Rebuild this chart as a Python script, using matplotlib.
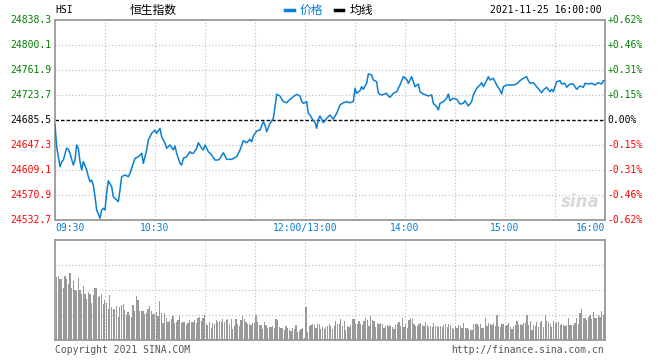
import numpy as np
import matplotlib
matplotlib.use("Agg")
from matplotlib import pyplot as plt

# HSI intraday 2021-11-25, minutes since 09:30 (lunch break removed)
prev_close = 24685.5
y_min, y_max = 24532.7, 24838.3

minutes = [0, 1, 3, 4, 5, 7, 8, 9, 11, 12, 13, 14, 15, 16, 17, 19, 20, 21, 22, 23,
           24, 25, 27, 28, 29, 30, 31, 32, 34, 35, 37, 38, 39, 40, 42, 44, 45, 47, 48, 50,
           52, 53, 55, 56, 58, 60, 61, 63, 64, 66, 67, 69, 71, 72, 73, 75, 76, 77, 79, 81,
           82, 83, 85, 86, 88, 89, 90, 92, 94, 96, 98, 99,
           101, 103, 106, 109, 111, 113, 115, 117, 118, 119, 121, 123, 125, 126, 127, 129, 131, 132, 133, 135,
           137, 139, 141, 143, 145, 147, 148, 149, 151, 152, 153, 155, 156, 157, 158, 159, 161, 163, 164, 165,
           167, 168, 169, 171, 173, 175, 177, 179, 180, 181, 183, 184, 185, 187, 188, 190, 191, 193, 194, 196,
           199, 200, 201, 203, 205, 207, 209, 211, 212, 214, 216, 218,
           219, 221, 224, 226, 227, 229, 230, 231, 233, 235, 236, 237, 239, 241, 243, 245, 246, 248, 250, 251,
           253, 255, 256, 257, 259, 260, 261, 263, 265, 267, 268, 269, 271, 273, 275, 277, 279, 281, 283, 284,
           285, 287, 289, 291, 292, 293, 295, 297, 298, 299, 301, 303, 304, 306, 307, 309, 311, 313, 315, 317,
           318, 320, 322, 324, 326, 328, 329, 330]

price = [24677.9, 24644.7, 24614.1, 24621.8, 24624.4, 24642.7, 24640.7, 24634.6, 24616.7, 24624.4,
         24647.3, 24642.3, 24621.8, 24609.1, 24621.8, 24609.1, 24598.9, 24591.2, 24593.8, 24586.2,
         24568.3, 24548.0, 24535.3, 24548.0, 24550.6, 24548.0, 24573.5, 24592.7, 24583.6, 24568.3,
         24563.3, 24560.7, 24578.5, 24598.9, 24601.5, 24598.9, 24604.1, 24619.3, 24627.0, 24629.4,
         24634.6, 24619.3, 24639.7, 24654.9, 24665.2, 24670.2, 24665.2, 24672.8, 24660.0, 24649.9,
         24642.3, 24647.3, 24639.7, 24645.8, 24634.6, 24619.3, 24616.7, 24627.0, 24629.4, 24637.1,
         24634.6, 24634.6, 24642.3, 24650.8, 24642.3, 24639.7, 24647.3, 24637.1, 24632.0, 24624.4,
         24624.4, 24627.0,
         24635.5, 24625.4, 24625.4, 24629.4, 24639.7, 24653.9, 24650.8, 24656.0, 24652.3, 24661.1,
         24668.7, 24670.2, 24682.9, 24677.9, 24667.6, 24680.5, 24688.1, 24705.8, 24724.8, 24722.2,
         24713.5, 24711.9, 24717.1, 24721.1, 24724.8, 24722.2, 24713.5, 24711.0, 24713.5, 24695.7,
         24693.1, 24684.4, 24682.0, 24672.8, 24686.6, 24691.6, 24681.4, 24688.1, 24690.5, 24693.1,
         24686.6, 24691.6, 24695.7, 24708.4, 24711.9, 24713.5, 24711.9, 24713.5, 24733.9, 24726.3,
         24730.3, 24736.4, 24732.4, 24741.6, 24755.8, 24754.3, 24746.6, 24744.0, 24726.3, 24723.7,
         24726.3, 24722.2, 24720.2, 24726.3, 24728.7, 24739.0, 24751.7, 24747.7, 24741.6, 24751.7,
         24736.4, 24740.5,
         24728.7, 24725.2, 24722.2, 24723.7, 24711.0, 24705.8, 24700.8, 24711.0, 24713.5, 24718.7,
         24725.2, 24715.0, 24718.7, 24717.1, 24709.9, 24711.0, 24715.0, 24706.9, 24713.5, 24723.7,
         24733.9, 24739.0, 24742.5, 24736.4, 24745.6, 24751.7, 24746.6, 24749.2, 24739.0, 24731.3,
         24725.2, 24736.4, 24739.0, 24739.0, 24739.0, 24740.5, 24745.6, 24749.2, 24751.7, 24745.6,
         24741.6, 24742.5, 24736.4, 24730.3, 24727.2, 24731.3, 24735.5, 24728.7, 24732.4, 24728.7,
         24744.0, 24745.6, 24740.5, 24741.6, 24735.5, 24740.5, 24740.5, 24732.4, 24737.5, 24735.5,
         24741.6, 24740.5, 24741.6, 24739.0, 24742.5, 24740.5, 24745.6, 24745.6]

# volume per minute (relative units)
volume = [63, 64, 61, 61, 52, 64, 61, 56, 67, 52, 59, 50, 49, 62, 50, 46, 54, 46, 41, 48,
          46, 37, 45, 52, 52, 43, 44, 46, 36, 40, 37, 31, 45, 33, 31, 31, 34, 23, 33, 35,
          36, 30, 25, 28, 25, 23, 35, 29, 44, 40, 29, 29, 29, 26, 27, 31, 34, 29, 26, 26,
          28, 24, 39, 27, 17, 27, 22, 18, 19, 21, 24, 17, 18, 20, 25, 17, 18, 18, 15, 17,
          20, 18, 18, 20, 17, 22, 23, 19, 22, 25, 16, 15, 18, 12, 17, 16, 20, 18, 19, 18,
          21, 18, 20, 21, 16, 21, 11, 14, 21, 16,
          14, 20, 24, 21, 18, 16, 16, 15, 17, 17, 25, 18, 15, 15, 11, 18, 15, 12, 13, 13,
          14, 12, 21, 20, 13, 12, 12, 10, 14, 12, 10, 9, 12, 11, 15, 8, 9, 11, 12, 2,
          33, 8, 14, 15, 16, 15, 12, 16, 16, 11, 13, 11, 13, 14, 16, 14, 11, 14, 19, 16,
          16, 21, 14, 19, 10, 14, 13, 15, 21, 21, 16, 16, 19, 16, 15, 19, 22, 20, 14, 24,
          20, 19, 13, 17, 16, 17, 16, 12, 14, 15, 14, 15, 13, 11, 15, 16, 18, 14, 22, 13,
          16, 12, 20, 22, 21, 16, 14, 14, 16, 17,
          15, 14, 18, 15, 13, 14, 13, 17, 14, 14, 13, 14, 13, 15, 16, 13, 16, 15, 12, 11,
          14, 12, 15, 14, 12, 17, 12, 12, 11, 10, 10, 16, 16, 16, 14, 16, 12, 12, 22, 14,
          17, 16, 15, 17, 14, 25, 14, 13, 16, 16, 14, 15, 17, 13, 11, 14, 15, 19, 15, 16,
          15, 17, 17, 25, 15, 19, 10, 15, 14, 18, 13, 18, 19, 13, 25, 19, 18, 16, 13, 19,
          16, 18, 18, 15, 16, 15, 14, 15, 22, 15, 15, 15, 17, 22, 16, 27, 31, 22, 22, 20,
          23, 25, 21, 28, 22, 22, 25, 23, 29, 25, 34]

time_ticks = [0, 60, 150, 210, 270, 330]
time_labels = ["09:30", "10:30", "12:00/13:00", "14:00", "15:00", "16:00"]

blue = "#0a7fd2"
green = "#008000"
red = "#ff0000"
border = "#999999"
gridc = "#bbbbbb"
mono = "DejaVu Sans Mono"
cjk = ["Noto Sans CJK SC", "DejaVu Sans"]

fig = plt.figure(figsize=(6.6, 3.6), dpi=100)
ax = fig.add_axes([55 / 660, 140 / 360, 550 / 660, 200 / 360])
axv = fig.add_axes([55 / 660, 20 / 360, 550 / 660, 100 / 360])

step = (y_max - y_min) / 8
levels = [y_min + i * step for i in range(9)]

for a in (ax, axv):
    a.set_xlim(0, 330)
    for s in a.spines.values():
        s.set_color(border)
        s.set_linewidth(1.3)
    a.set_xticks([])
    a.set_yticks([])
    for xv in range(30, 330, 30):
        a.axvline(xv, color=gridc, lw=0.8, ls=(0, (1, 2)), zorder=0)

ax.set_ylim(y_min, y_max)
for lv in levels[1:-1]:
    if abs(lv - prev_close) > 1:
        ax.axhline(lv, color=gridc, lw=0.8, ls=(0, (1, 2)), zorder=0)
ax.axhline(prev_close, color="black", lw=1, ls=(0, (2.5, 1.5)), zorder=1)
ax.plot(minutes, price, color=blue, lw=1.1, zorder=3)

# axis labels
for lv in levels:
    if abs(lv - prev_close) < 1:
        c = "black"
        pct = "0.00%"
    elif lv > prev_close:
        c = green
        pct = "+%.2f%%" % ((lv - prev_close) / prev_close * 100)
    else:
        c = red
        pct = "%.2f%%" % ((lv - prev_close) / prev_close * 100)
    ax.text(-0.007, lv, "%.1f" % lv, transform=ax.get_yaxis_transform(),
            ha="right", va="center", fontsize=7, family=mono, color=c)
    ax.text(1.004, lv, pct, transform=ax.get_yaxis_transform(),
            ha="left", va="center", fontsize=7, family=mono, color=c)

for t, lab in zip(time_ticks, time_labels):
    ha = "left" if t == 0 else ("right" if t == 330 else "center")
    ax.text(t, -0.04, lab, transform=ax.get_xaxis_transform(), ha=ha, va="center",
            fontsize=7, family=mono, color=blue)

# sina watermark
ax.text(0.955, 0.09, "sina", transform=ax.transAxes, ha="center", va="center",
        fontsize=12, fontweight="bold", style="italic", color="#d8d8d8", zorder=2)

# volume
vx = np.linspace(1, 330, len(volume))
axv.bar(vx, volume, width=0.75, color="#999999", linewidth=0, antialiased=False, zorder=2)
axv.set_ylim(0, 100)
for hv in (25, 50, 75):
    axv.axhline(hv, color=gridc, lw=0.8, ls=(0, (1, 2)), zorder=0)

# header
fig.text(55 / 660, 1 - 10 / 360, "HSI", fontsize=7, family=mono, va="center")
fig.text(130 / 660, 1 - 10 / 360, "恒生指数", fontsize=8.5, family=cjk, va="center")
fig.add_artist(plt.Line2D([285 / 660, 294 / 660], [1 - 10 / 360] * 2, color=blue, lw=2.5))
fig.text(300 / 660, 1 - 10 / 360, "价格", fontsize=8.5, family=cjk, va="center", color=blue)
fig.add_artist(plt.Line2D([335 / 660, 343 / 660], [1 - 10 / 360] * 2, color="black", lw=2.5))
fig.text(350 / 660, 1 - 10 / 360, "均线", fontsize=8.5, family=cjk, va="center")
fig.text(602 / 660, 1 - 10 / 360, "2021-11-25 16:00:00", fontsize=7, family=mono,
         va="center", ha="right")

# footer
fig.text(55 / 660, 1 - 350 / 360, "Copyright 2021 SINA.COM", fontsize=7, family=mono,
         va="center", color="#555555")
fig.text(604 / 660, 1 - 350 / 360, "http://finance.sina.com.cn", fontsize=7, family=mono,
         va="center", ha="right", color="#555555")

fig.savefig("out.png", dpi=100)
